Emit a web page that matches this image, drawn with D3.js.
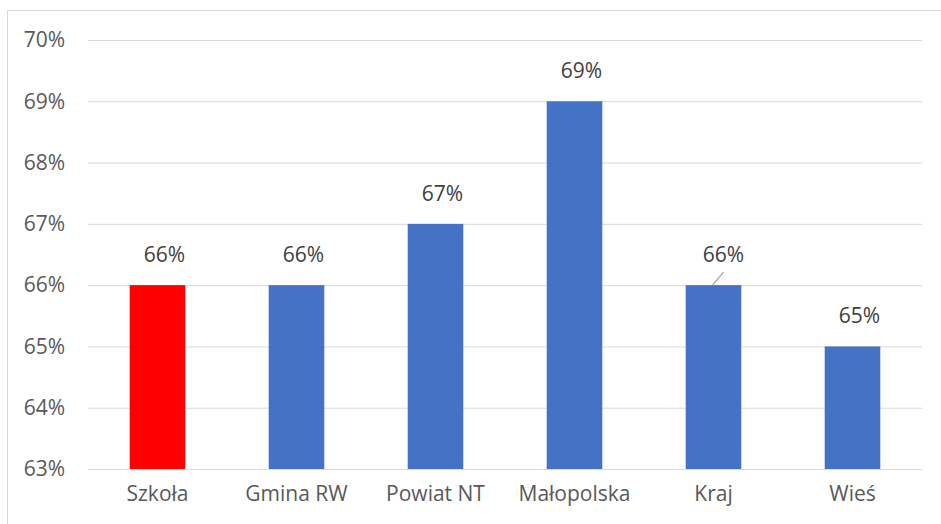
<!DOCTYPE html>
<html><head><meta charset="utf-8">
<script src="https://cdn.jsdelivr.net/npm/d3@7"></script>
<style>
html,body{margin:0;padding:0;background:#fff;}
svg{display:block;font-family:"Open Sans",sans-serif;}
</style></head>
<body>
<svg id="c" width="941" height="524"></svg>
<script>
const categories = ["Szkoła","Gmina RW","Powiat NT","Małopolska","Kraj","Wieś"];
const values = [66,66,67,69,66,65];
const barColors = ["#ff0000","#4472c4","#4472c4","#4472c4","#4472c4","#4472c4"];
const yTicks = [63,64,65,66,67,68,69,70];

const svg = d3.select("#c");
const W = 941, H = 524;
const m = {left:88, right:19, top:40, bottom:55};
const FS = "21px";

// chart border
svg.append("rect").attr("x",7.5).attr("y",10.5).attr("width",W+10).attr("height",H+10)
  .attr("fill","none").attr("stroke","#d9d9d9").attr("stroke-width",1);

const x = d3.scaleBand().domain(categories).range([m.left, W-m.right]).paddingInner(0.6).paddingOuter(0.3);
const y = d3.scaleLinear().domain([63,70]).range([469,40]);

// gridlines
const yAxis = d3.axisLeft(y).tickValues(yTicks).tickSize(-(W-m.right-m.left)).tickFormat(d=>d+"%").tickPadding(23);
const ga = svg.append("g").attr("transform",`translate(${m.left},0)`).call(yAxis);
ga.select(".domain").remove();
ga.selectAll("line").attr("stroke","#d9d9d9").attr("stroke-width",1);
ga.selectAll("text").attr("fill","#595959").style("font-size",FS).style("font-family","'Open Sans',sans-serif");

// bars
svg.append("g").selectAll("rect").data(values).join("rect")
  .attr("x",(d,i)=>x(categories[i]))
  .attr("y",d=>y(d))
  .attr("width",x.bandwidth())
  .attr("height",d=>y(63)-y(d))
  .attr("fill",(d,i)=>barColors[i]);

// baseline redraw over bars
svg.append("line").attr("x1",m.left).attr("x2",W-m.right).attr("y1",y(63)+0.5).attr("y2",y(63)+0.5)
  .attr("stroke","#d9d9d9");

// value labels
const labelDx = [7,7,7,7,10,7];
svg.append("g").selectAll("text").data(values).join("text")
  .attr("x",(d,i)=>x(categories[i])+x.bandwidth()/2+labelDx[i])
  .attr("y",d=>y(d)-23)
  .attr("text-anchor","middle")
  .attr("fill","#404040")
  .style("font-size",FS)
  .text(d=>d+"%");

// leader line for Kraj
const kx = x("Kraj")+x.bandwidth()/2;
svg.append("line").attr("x1",kx-1).attr("y1",y(66)).attr("x2",kx+10).attr("y2",y(66)-13)
  .attr("stroke","#a6a6a6").attr("stroke-width",1.3);

// category labels
const xAxis = d3.axisBottom(x).tickSize(0).tickPadding(17);
const gx = svg.append("g").attr("transform",`translate(0,${y(63)})`).call(xAxis);
gx.select(".domain").remove();
gx.selectAll("text").attr("fill","#595959").style("font-size",FS).style("font-family","'Open Sans',sans-serif");
</script>
</body></html>
